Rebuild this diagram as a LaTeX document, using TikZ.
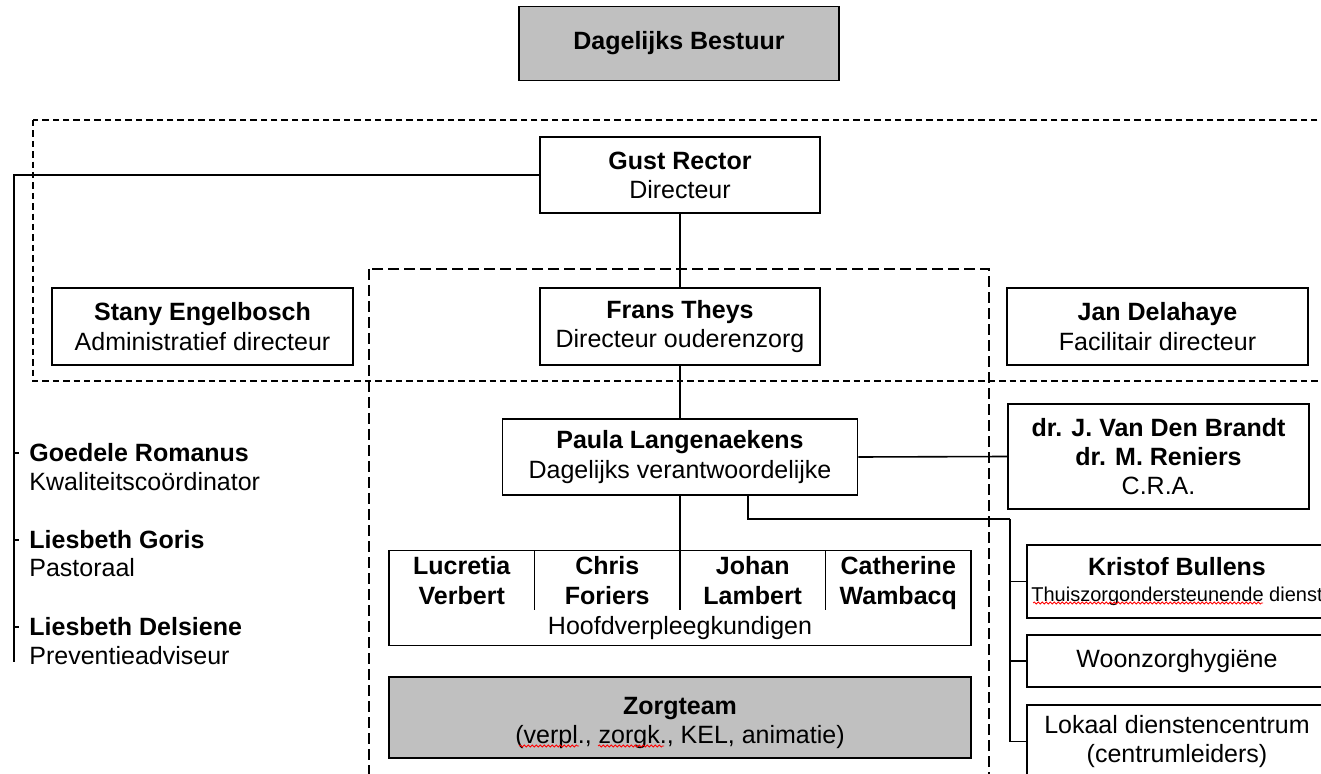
\documentclass[tikz,border=0pt]{standalone}
\usepackage{fontspec}
\setmainfont{Liberation Sans}
\usetikzlibrary{positioning,decorations.pathmorphing}
\definecolor{boxgrey}{RGB}{192,192,192}
\newcommand{\orgfont}{\fontsize{12.5}{14.6}\selectfont}
\newcommand{\smallorgfont}{\fontsize{10}{12}\selectfont}
\tikzset{
  org/.style={draw=black,line width=0.9pt,align=center,inner sep=1pt,
              font=\orgfont},
  orggrey/.style={org,fill=boxgrey},
  lnk/.style={line width=0.8pt},
  staffitem/.style={anchor=west,inner sep=0pt,font=\orgfont},
  headnurse/.style={anchor=north,align=center,inner sep=0pt,font=\orgfont\bfseries},
  spell/.style={red,line width=0.4pt,decorate,
                decoration={snake,amplitude=0.5pt,segment length=2pt}},
}

\begin{document}
\begin{tikzpicture}[x=0.5pt,y=-0.5pt,
    outerdash/.style={line width=0.7pt,dash pattern=on 3.2pt off 2pt},
    innerdash/.style={line width=0.7pt,dash pattern=on 5.5pt off 2.5pt}
  ]
  \useasboundingbox (0,0) rectangle (1321,774);
  \clip (0,0) rectangle (1321,774);

  % dashed groupings
  \draw[outerdash] (33,120) rectangle (1345,381);
  \draw[innerdash] (369,269) rectangle (989,800);

  \node[orggrey,minimum width=160pt,minimum height=37pt] (bestuur) at (679,43.5)
    {\textbf{Dagelijks Bestuur}};
  \node[org,fill=white,minimum width=140pt,minimum height=38pt] (gust) at (680,175)
    {\textbf{Gust Rector}\\Directeur};
  \node[org,minimum width=150.5pt,minimum height=38.5pt] (stany) at (202.5,326.5)
    {\textbf{Stany Engelbosch}\\Administratief directeur};
  \node[org,minimum width=140pt,minimum height=38.5pt] (frans) at (680,326.5)
    {\textbf{Frans Theys}\\Directeur ouderenzorg};
  \node[org,minimum width=150.5pt,minimum height=38.5pt] (jan) at (1157.5,326.5)
    {\textbf{Jan Delahaye}\\Facilitair directeur};
  \node[org,minimum width=177.5pt,minimum height=38pt] (paula) at (680,457)
    {\textbf{Paula Langenaekens}\\Dagelijks verantwoordelijke};
  \node[org,minimum width=150.5pt,minimum height=52.5pt] (cra) at (1158.5,456.5)
    {\textbf{dr. J. Van Den Brandt}\\\textbf{dr. M. Reniers}\\C.R.A.};
  \node[org,minimum width=150pt,minimum height=36.5pt] (kristof) at (1177,581.5)
    {\textbf{Kristof Bullens}\\[-2pt]{\smallorgfont Thuiszorgondersteunende dienst}};
  \node[org,minimum width=150pt,minimum height=26pt] (woon) at (1177,661)
    {Woonzorghygiëne};
  \node[org,minimum width=150pt,minimum height=36.5pt] (lokaal) at (1177,741.5)
    {Lokaal dienstencentrum\\(centrumleiders)};

  % hoofdverpleegkundigen
  \node[org,minimum width=291pt,minimum height=47.5pt] (hoofd) at (680,598) {};
  \node[headnurse] (lucretia) at (461.75,554) {Lucretia\strut\\Verbert\strut};
  \node[headnurse] (chris) at (607.25,554) {Chris\strut\\Foriers\strut};
  \node[headnurse] (johan) at (752.75,554) {Johan\strut\\Lambert\strut};
  \node[headnurse] (catherine) at (898.25,554) {Catherine\strut\\Wambacq\strut};
  \node[font=\orgfont,inner sep=0pt] (hvk) at (680,628) {Hoofdverpleegkundigen};
  \foreach \x in {534.5,825.5}
    \draw[lnk] (\x,551) -- (\x,610);

  \node[orggrey,minimum width=291pt,minimum height=40.5pt] (zorg) at (680,717.5)
    {\rule{0pt}{14pt}\textbf{Zorgteam}\\(verpl., zorgk., KEL, animatie)};

  % staff list
  \node[staffitem] (romanus) at (29,453) {\textbf{Goedele Romanus}};
  \node[staffitem] (romanusf) at (29,482) {Kwaliteitscoördinator};
  \node[staffitem] (goris) at (29,540) {\textbf{Liesbeth Goris}};
  \node[staffitem] (gorisf) at (29,568) {Pastoraal};
  \node[staffitem] (delsiene) at (29,627) {\textbf{Liesbeth Delsiene}};
  \node[staffitem] (delsienef) at (29,656) {Preventieadviseur};
  \coordinate (staffend) at (14,662);
  \coordinate (tap) at (748,0);
  \coordinate (split) at (1010,519);

  % connectors
  \draw[lnk] (gust.west) -| (staffend);
  \foreach \p in {romanus,goris,delsiene}
    \draw[lnk] (staffend |- \p.west) -- ++(5,0);
  \draw[lnk] (gust.south) -- (frans.north);
  \draw[lnk] (frans.south) -- (paula.north);
  \draw[lnk] (paula.east) -- (cra.west);
  \draw[lnk] (paula.south) -- (paula.south |- 0,610);
  \draw[lnk] (paula.south -| tap) |- (split);
  \draw[lnk] (split) |- (lokaal.west);
  \draw[lnk] (split |- kristof.west) -- (kristof.west);
  \draw[lnk] (split |- woon.west) -- (woon.west);

  % spelling marks
  \draw[spell] (519,746) -- (579,746);
  \draw[spell] (598,746) -- (664,746);
  \draw[spell] (1033,603) -- (1263,603);
\end{tikzpicture}
\end{document}
